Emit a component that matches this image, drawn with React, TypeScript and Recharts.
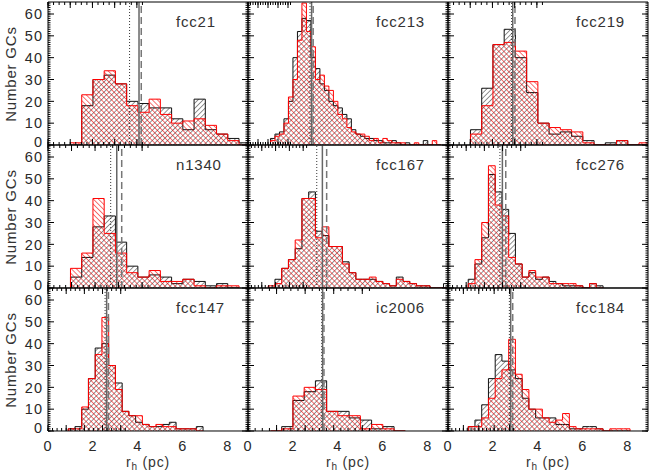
import React from 'react';
import { ComposedChart, Area, XAxis, YAxis, ReferenceLine } from 'recharts';

// panel names, row by row
const panelNames = ['fcc21', 'fcc213', 'fcc219', 'n1340', 'fcc167', 'fcc276', 'fcc147', 'ic2006', 'fcc184'];

// histogram binning (left edge of first bin, bin width)
const binStart = [1.0, 1.0, 1.0, 1.0, 0.9, 0.9, 0.9, 1.0, 0.9];
const binWidth = [0.5, 0.2, 0.5, 0.5, 0.3, 0.3, 0.3, 0.5, 0.3];

// counts per bin: black = first sample, red = second sample
const fcc21Black = [0, 18, 30, 32, 28, 20, 19, 17, 17, 12, 7, 21, 7, 5, 3, 1];
const fcc21Red = [1, 23, 30, 34, 28, 18, 15, 21, 14, 10, 11, 12, 9, 5, 2, 0];

const fcc213Black = [3, 5, 6, 12, 20, 40, 52, 58, 57, 40, 35, 28, 25, 20, 18, 17, 14, 12, 7, 5, 4, 3, 3, 2, 2, 1, 1, 2, 1, 0, 1, 0, 0, 0, 2, 0, 0, 0];
const fcc213Red = [2, 4, 5, 10, 22, 30, 48, 65, 52, 45, 30, 32, 27, 25, 20, 14, 12, 8, 6, 5, 5, 4, 2, 3, 1, 3, 2, 1, 1, 1, 0, 0, 1, 0, 0, 0, 2, 0];

const fcc219Black = [7, 26, 46, 53, 40, 24, 10, 5, 6, 4, 2, 0, 1, 2, 0, 0];
const fcc219Red = [5, 18, 46, 47, 43, 29, 10, 8, 7, 6, 1, 0, 0, 2, 0, 1];

const n1340Black = [5, 14, 28, 33, 21, 10, 5, 6, 5, 2, 4, 3, 1, 2, 0];
const n1340Red = [9, 16, 41, 25, 16, 7, 5, 8, 3, 3, 4, 1, 0, 1, 1];

const fcc167Black = [0, 4, 9, 13, 18, 41, 44, 26, 24, 19, 19, 12, 7, 4, 4, 4, 3, 2, 1, 5, 3, 2, 1, 1, 0, 0, 2];
const fcc167Red = [1, 2, 9, 13, 22, 41, 41, 23, 28, 19, 19, 11, 7, 4, 4, 5, 3, 2, 1, 4, 3, 2, 1, 1, 0, 0, 0];

const fcc276Black = [4, 11, 23, 52, 44, 36, 25, 11, 5, 7, 4, 5, 3, 2, 1, 1, 1, 0, 2, 1];
const fcc276Red = [2, 13, 30, 56, 38, 33, 14, 11, 5, 8, 5, 5, 2, 2, 2, 2, 1, 0, 2, 0];

const fcc147Black = [1, 2, 10, 24, 38, 40, 30, 22, 9, 7, 4, 3, 2, 2, 3, 4, 1, 1, 1, 2];
const fcc147Red = [1, 1, 11, 24, 35, 52, 30, 19, 9, 7, 7, 3, 2, 3, 2, 2, 1, 1, 1, 0];

const ic2006Black = [0, 2, 14, 18, 23, 9, 9, 6, 5, 1, 2, 0];
const ic2006Red = [0, 1, 16, 20, 19, 9, 7, 7, 1, 3, 1, 0];

const fcc184Black = [2, 5, 12, 24, 35, 32, 28, 24, 15, 10, 6, 6, 6, 3, 3, 1, 1, 2, 2, 1, 0, 0, 0, 0];
const fcc184Red = [2, 2, 6, 15, 24, 28, 42, 26, 19, 10, 10, 6, 4, 5, 8, 2, 1, 1, 1, 1, 0, 1, 1, 1];

const blackCounts = [fcc21Black, fcc213Black, fcc219Black, n1340Black, fcc167Black, fcc276Black, fcc147Black, ic2006Black, fcc184Black];
const redCounts = [fcc21Red, fcc213Red, fcc219Red, n1340Red, fcc167Red, fcc276Red, fcc147Red, ic2006Red, fcc184Red];

// vertical markers: dotted, solid, dashed
const dottedLine = [3.63, 2.76, 2.83, 2.79, 3.06, 2.31, 2.54, 3.28, 2.73];
const solidLine = [4.05, 2.83, 2.88, 3.06, 3.31, 2.42, 2.61, 3.32, 2.79];
const dashedLine = [4.15, 2.9, 2.98, 3.28, 3.5, 2.57, 2.69, 3.38, 2.88];

const xMajor = [0, 2, 4, 6, 8];
const yMajor = [0, 10, 20, 30, 40, 50, 60];
const xMinor = Array.from({ length: 18 }, (_, i) => i * 0.5);
const yMinor = Array.from({ length: 66 }, (_, i) => i);

const XMAX = 8.9;
const YMAX = 65.5;
const PL = [48, 248, 448];
const PT = [2, 145, 288];
const PW = 200;
const PH = 143;
const M = { top: 4, right: 4, bottom: 40, left: 44 };
const THIN = 0.001; // axis band size; zero would hide the axis

const FONT = '"Liberation Sans", Arial, sans-serif';
const tickStyle = { fontSize: 14.5, fill: '#2a2a2a', fontFamily: FONT, letterSpacing: 1 };

// keeps the tick line but draws no label
const NoLabel = () => <g />;

// y labels; the 0 sits a little above its tick, as in the original
function YLabel(props: any) {
  const { x, y, payload } = props;
  return (
    <text x={x} y={y + (payload.value === 0 ? -3 : 0)} dy="0.36em" textAnchor="end"
      fontSize={tickStyle.fontSize} fill={tickStyle.fill} fontFamily={FONT} letterSpacing={1}>
      {payload.value}
    </text>
  );
}

function buildSteps(start: number, width: number, black: number[], red: number[]) {
  const rows = [{ x: start, b: 0, r: 0 }];
  black.forEach((v, i) => rows.push({ x: start + i * width, b: v, r: red[i] }));
  const end = start + black.length * width;
  rows.push({ x: end, b: black[black.length - 1], r: red[red.length - 1] });
  rows.push({ x: end, b: 0, r: 0 });
  return rows;
}

function Panel({ idx }: { idx: number }) {
  const col = idx % 3;
  const row = Math.floor(idx / 3);
  const data = buildSteps(binStart[idx], binWidth[idx], blackCounts[idx], redCounts[idx]);
  const xCommon = { type: 'number' as const, domain: [0, XMAX], allowDataOverflow: true, height: THIN, interval: 0 as const };
  const yCommon = { type: 'number' as const, domain: [0, YMAX], allowDataOverflow: true, width: THIN, interval: 0 as const };
  const axisLine = { stroke: '#000', strokeWidth: 1 };
  const tickLine = { stroke: '#000', strokeWidth: 1 };

  return (
    <div style={{ position: 'absolute', left: PL[col] - M.left, top: PT[row] - M.top }}>
      <ComposedChart width={PW + M.left + M.right} height={PH + M.top + M.bottom} data={data} margin={M}>
        {/* bottom */}
        <XAxis xAxisId="b" dataKey="x" orientation="bottom" {...xCommon} ticks={xMajor} tickLine={false}
          axisLine={axisLine} tick={row === 2 ? tickStyle : false} tickSize={0} tickMargin={10} />
        <XAxis xAxisId="bM" orientation="bottom" mirror {...xCommon} ticks={xMajor} tick={NoLabel} tickSize={6}
          axisLine={false} tickLine={tickLine} />
        <XAxis xAxisId="bm" orientation="bottom" mirror {...xCommon} ticks={xMinor} tick={NoLabel} tickSize={3}
          axisLine={false} tickLine={tickLine} />
        {/* top */}
        <XAxis xAxisId="t" orientation="top" mirror {...xCommon} ticks={xMajor} tick={NoLabel} tickSize={6}
          axisLine={axisLine} tickLine={tickLine} />
        <XAxis xAxisId="tm" orientation="top" mirror {...xCommon} ticks={xMinor} tick={NoLabel} tickSize={3}
          axisLine={false} tickLine={tickLine} />
        {/* left */}
        <YAxis yAxisId="l" orientation="left" {...yCommon} ticks={yMajor} tickLine={false}
          axisLine={axisLine} tick={col === 0 ? YLabel : false} tickSize={0} tickMargin={5} />
        <YAxis yAxisId="lM" orientation="left" mirror {...yCommon} ticks={yMajor} tick={NoLabel} tickSize={6}
          axisLine={false} tickLine={tickLine} />
        <YAxis yAxisId="lm" orientation="left" mirror {...yCommon} ticks={yMinor} tick={NoLabel} tickSize={2.5}
          axisLine={false} tickLine={tickLine} />
        {/* right */}
        <YAxis yAxisId="r" orientation="right" mirror {...yCommon} ticks={yMajor} tick={NoLabel} tickSize={6}
          axisLine={axisLine} tickLine={tickLine} />
        <YAxis yAxisId="rm" orientation="right" mirror {...yCommon} ticks={yMinor} tick={NoLabel} tickSize={2.5}
          axisLine={false} tickLine={tickLine} />

        <Area xAxisId="b" yAxisId="l" type="stepAfter" dataKey="b" stroke="#111" strokeWidth={1}
          fill="url(#hatchBlack)" fillOpacity={1} isAnimationActive={false} dot={false} activeDot={false} />
        <Area xAxisId="b" yAxisId="l" type="stepAfter" dataKey="r" stroke="#f00" strokeWidth={1}
          fill="url(#hatchRed)" fillOpacity={1} isAnimationActive={false} dot={false} activeDot={false} />

        <ReferenceLine xAxisId="b" yAxisId="l" x={dottedLine[idx]} stroke="#333" strokeWidth={1} strokeDasharray="1 2" />
        <ReferenceLine xAxisId="b" yAxisId="l" x={solidLine[idx]} stroke="#666" strokeWidth={1.5} />
        <ReferenceLine xAxisId="b" yAxisId="l" x={dashedLine[idx]} stroke="#777" strokeWidth={1.5} strokeDasharray="7 4" />
      </ComposedChart>
      <div style={{ position: 'absolute', left: M.left + 128, top: M.top + 12, fontFamily: FONT, fontSize: 15,
        color: '#333', letterSpacing: 0.8, lineHeight: '16px', whiteSpace: 'nowrap' }}>
        {panelNames[idx]}
      </div>
    </div>
  );
}

export default function App() {
  return (
    <div style={{ position: 'absolute', left: 0, top: 0, width: 653, height: 472, background: '#fff', overflow: 'hidden' }}>
      <svg width={0} height={0} style={{ position: 'absolute' }}>
        <defs>
          <pattern id="hatchBlack" patternUnits="userSpaceOnUse" width={3.6} height={3.6} patternTransform="rotate(45)">
            <line x1={0} y1={0} x2={0} y2={3.6} stroke="#111" strokeWidth={0.9} />
          </pattern>
          <pattern id="hatchRed" patternUnits="userSpaceOnUse" width={3.6} height={3.6} patternTransform="rotate(-45)">
            <line x1={0} y1={0} x2={0} y2={3.6} stroke="#e00" strokeWidth={1.1} />
          </pattern>
        </defs>
      </svg>
      {panelNames.map((_, i) => (
        <Panel key={i} idx={i} />
      ))}
      {[0, 1, 2].map((r) => (
        <div key={'yl' + r} style={{ position: 'absolute', left: 11, top: PT[r] + 72, width: 0, height: 0 }}>
          <div style={{ position: 'absolute', transform: 'translate(-50%, -50%) rotate(-90deg)', fontFamily: FONT,
            fontSize: 15, color: '#333', letterSpacing: 0.8, whiteSpace: 'nowrap', lineHeight: '16px' }}>
            Number GCs
          </div>
        </div>
      ))}
      {[0, 1, 2].map((c) => (
        <div key={'xl' + c} style={{ position: 'absolute', left: PL[c] + 100, top: 463, width: 0, height: 0 }}>
          <div style={{ position: 'absolute', transform: 'translate(-50%, -50%)', fontFamily: FONT, fontSize: 14,
            color: '#333', letterSpacing: 0.8, whiteSpace: 'nowrap', lineHeight: '15px' }}>
            r<span style={{ fontSize: 10, position: 'relative', top: 3 }}>h</span> (pc)
          </div>
        </div>
      ))}
    </div>
  );
}
